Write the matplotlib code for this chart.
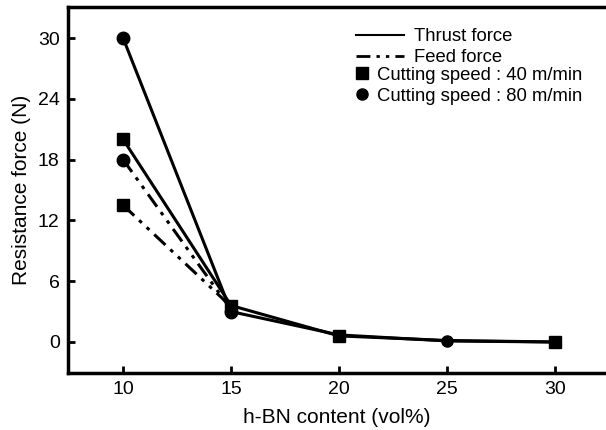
import matplotlib.pyplot as plt
from matplotlib.lines import Line2D

plt.rcParams['font.family'] = ['Liberation Sans', 'DejaVu Sans']

hbn = [10, 15, 20, 25, 30]
thrust_40 = [20.0, 3.6, 0.6, 0.15, 0.0]
thrust_80 = [30.0, 3.0, 0.7, 0.1, 0.0]
feed_40 = [13.5, 3.5]
feed_80 = [18.0, 3.2]

fig = plt.figure(figsize=(6.06, 4.30), dpi=100)
ax = fig.add_axes([68 / 606, 57 / 430, 1 - 68 / 606, 366 / 430])

feed_dash = (0, (5, 2.2, 1.2, 2.2, 1.2, 2.2))

# thrust force, solid lines
ax.plot(hbn, thrust_40, color='black', lw=2.2)
ax.plot(hbn, thrust_80, color='black', lw=2.2)
# feed force, dash-dot-dot
ax.plot(hbn[:2], feed_40, color='black', lw=2.2, linestyle=feed_dash)
ax.plot(hbn[:2], feed_80, color='black', lw=2.2, linestyle=feed_dash)

# markers
ax.plot(hbn[0], thrust_40[0], 's', color='black', ms=8)
ax.plot(hbn[0], feed_40[0], 's', color='black', ms=8)
ax.plot(hbn[0], thrust_80[0], 'o', color='black', ms=9)
ax.plot(hbn[0], feed_80[0], 'o', color='black', ms=9)
ax.plot(15, thrust_40[1], 's', color='black', ms=9)
ax.plot(15, thrust_80[1], 'o', color='black', ms=9)
ax.plot(20, thrust_40[2], 's', color='black', ms=8)
ax.plot(25, thrust_80[3], 'o', color='black', ms=8)
ax.plot(30, thrust_40[4], 's', color='black', ms=8)

ax.set_xlim(7.45, 32.36)
ax.set_ylim(-3.06, 33.06)
ax.set_xticks(hbn)
ax.set_yticks([0, 6, 12, 18, 24, 30])
ax.tick_params(direction='in', length=5, width=2, labelsize=14, pad=6)

for s in ['left', 'bottom', 'top']:
    ax.spines[s].set_linewidth(2.5)
ax.spines['right'].set_visible(False)

ax.set_xlabel('h-BN content (vol%)', fontsize=15, labelpad=7)
ax.set_ylabel('Resistance force (N)', fontsize=15, labelpad=5)

# legend: line styles
line_handles = [
    Line2D([], [], color='black', lw=1.5),
    Line2D([], [], color='black', lw=2, linestyle=feed_dash),
]
leg1 = ax.legend(line_handles, ['Thrust force', 'Feed force'],
                 loc='upper left', bbox_to_anchor=(0.528, 0.952),
                 frameon=False, fontsize=13.3, handlelength=2.6,
                 handletextpad=0.55, labelspacing=0.22, borderaxespad=0,
                 borderpad=0.2)
ax.add_artist(leg1)

# legend: markers
marker_handles = [
    Line2D([], [], color='black', marker='s', linestyle='none', ms=8),
    Line2D([], [], color='black', marker='o', linestyle='none', ms=8),
]
ax.legend(marker_handles, ['Cutting speed : 40 m/min', 'Cutting speed : 80 m/min'],
          loc='upper left', bbox_to_anchor=(0.528, 0.847),
          frameon=False, fontsize=13.3, handlelength=0.7,
          handletextpad=0.45, labelspacing=0.22, borderaxespad=0,
          borderpad=0.2)

fig.savefig('out.png', dpi=100)
